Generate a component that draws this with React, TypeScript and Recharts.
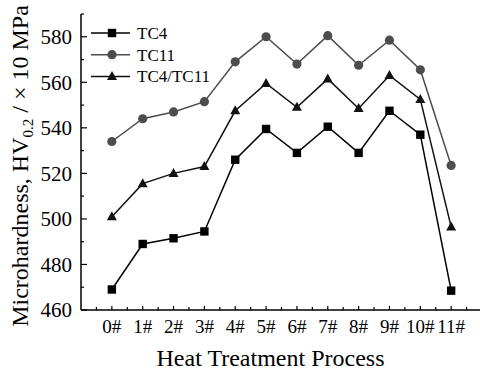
import React from "react";
import { Legend, Line, LineChart, XAxis, YAxis } from "recharts";

// heat treatment processes 0# .. 11#
const processes = ["0#", "1#", "2#", "3#", "4#", "5#", "6#", "7#", "8#", "9#", "10#", "11#"];
const tc4 = [469, 489, 491.5, 494.5, 526, 539.5, 529, 540.5, 529, 547.5, 537, 468.5];
const tc11 = [534, 544, 547, 551.5, 569, 580, 568, 580.5, 567.5, 578.5, 565.5, 523.5];
const tc4tc11 = [501, 515.5, 520, 523, 547.5, 559.5, 549, 561.5, 548.5, 563, 552.5, 496.5];

const xTicks = [-0.5, 0, 0.5, 1, 1.5, 2, 2.5, 3, 3.5, 4, 4.5, 5, 5.5, 6, 6.5, 7, 7.5, 8, 8.5, 9, 9.5, 10, 10.5, 11, 11.5];
const yTicks = [460, 470, 480, 490, 500, 510, 520, 530, 540, 550, 560, 570, 580, 590];

const FONT = '"Liberation Serif", "Times New Roman", serif';
const BLACK = "#000";
const GREY = "#4d4d4d";

const chartData = processes.map((p, i) => ({
  x: i,
  label: p,
  tc4: tc4[i],
  tc11: tc11[i],
  tc4tc11: tc4tc11[i],
}));

const series = [
  { key: "tc4", name: "TC4", color: BLACK, shape: "square" },
  { key: "tc11", name: "TC11", color: GREY, shape: "circle" },
  { key: "tc4tc11", name: "TC4/TC11", color: "#111", shape: "triangle" },
];

function Marker({ cx, cy, shape, color }: { cx: number; cy: number; shape: string; color: string }) {
  if (shape === "square") {
    return <rect x={cx - 4.2} y={cy - 4.2} width={8.4} height={8.4} fill={color} />;
  }
  if (shape === "circle") {
    return <circle cx={cx} cy={cy} r={4.6} fill={color} />;
  }
  return (
    <polygon
      points={`${cx},${cy - 5.5} ${cx - 5},${cy + 3.5} ${cx + 5},${cy + 3.5}`}
      fill={color}
    />
  );
}

const XTick = (props: any) => {
  const { x, y, payload } = props;
  const v = payload.value as number;
  const isMajor = Number.isInteger(v);
  return (
    <g>
      <line x1={x} x2={x} y1={y} y2={y - (isMajor ? 4 : 3)} stroke={BLACK} strokeWidth={1.2} />
      {isMajor && v >= 0 && v < processes.length && (
        <text x={x} y={y + 23} textAnchor="middle" fontFamily={FONT} fontSize={19} fill={BLACK}>
          {processes[v]}
        </text>
      )}
    </g>
  );
};

const TopTick = (props: any) => {
  const { x, y } = props;
  return <line x1={x} x2={x} y1={y} y2={y + 2.5} stroke={BLACK} strokeWidth={1.2} />;
};

const YTick = (props: any) => {
  const { x, y, payload } = props;
  const v = payload.value as number;
  const isMajor = v % 20 === 0;
  return (
    <g>
      <line x1={x} x2={x + (isMajor ? 6 : 3)} y1={y} y2={y} stroke={BLACK} strokeWidth={1.2} />
      {isMajor && v < 590 && (
        <text x={x - 9} y={y} dy="0.35em" textAnchor="end" fontFamily={FONT} fontSize={21} fill={BLACK}>
          {v}
        </text>
      )}
    </g>
  );
};

const YTitle = (props: any) => {
  const { viewBox } = props;
  const cx = viewBox.x + 28;
  const cy = 166;
  return (
    <text
      x={cx}
      y={cy}
      transform={`rotate(-90 ${cx} ${cy})`}
      textAnchor="middle"
      fontFamily={FONT}
      fontSize={24}
      fill={BLACK}
    >
      Microhardness, HV
      <tspan fontSize={15} dy={5}>0.2</tspan>
      <tspan dy={-5}> / × 10 MPa</tspan>
    </text>
  );
};

const XTitle = (props: any) => {
  const { viewBox } = props;
  return (
    <text
      x={viewBox.x + viewBox.width / 2 - 11}
      y={viewBox.y + 56}
      textAnchor="middle"
      fontFamily={FONT}
      fontSize={24}
      fill={BLACK}
    >
      Heat Treatment Process
    </text>
  );
};

const renderLegend = () => (
  <svg width={130} height={68}>
    {series.map((s, i) => {
      const y = 11 + i * 21.7;
      return (
        <g key={s.key}>
          <line x1={3} x2={42} y1={y} y2={y} stroke={s.color} strokeWidth={1.5} />
          <Marker cx={24} cy={y} shape={s.shape} color={s.color} />
          <text x={49} y={y} dy="0.35em" fontFamily={FONT} fontSize={17} fill={BLACK}>
            {s.name}
          </text>
        </g>
      );
    })}
  </svg>
);

export default function App() {
  return (
    <div
      style={{
        position: "fixed",
        left: 0,
        top: 0,
        width: 480,
        height: 370,
        overflow: "hidden",
        background: "#fff",
      }}
    >
      <LineChart width={500} height={370} data={chartData} margin={{ top: 14, right: 18, left: 0, bottom: 0 }}>
        <XAxis
          dataKey="x"
          type="number"
          domain={[-1, 12]}
          ticks={xTicks}
          interval={0}
          height={60}
          tickSize={0}
          tickMargin={0}
          tickLine={false}
          tick={<XTick />}
          axisLine={{ stroke: BLACK, strokeWidth: 1.5 }}
          allowDataOverflow
          label={<XTitle />}
        />
        <XAxis
          xAxisId="top"
          orientation="top"
          dataKey="x"
          type="number"
          domain={[-1, 12]}
          ticks={xTicks}
          interval={0}
          height={0}
          tickSize={0}
          tickMargin={0}
          tickLine={false}
          tick={<TopTick />}
          axisLine={{ stroke: BLACK, strokeWidth: 1.5 }}
          allowDataOverflow
        />
        <YAxis
          type="number"
          domain={[460, 590]}
          ticks={yTicks}
          interval={0}
          width={81}
          tickSize={0}
          tickMargin={0}
          tickLine={false}
          tick={<YTick />}
          axisLine={{ stroke: BLACK, strokeWidth: 1.5 }}
          allowDataOverflow
          label={<YTitle />}
        />
        <Legend
          layout="vertical"
          align="center"
          verticalAlign="middle"
          content={renderLegend}
          wrapperStyle={{ position: "absolute", left: 88, top: 22, width: 130, height: 68 }}
        />
        {series.map((s) => (
          <Line
            key={s.key}
            dataKey={s.key}
            name={s.name}
            stroke={s.color}
            strokeWidth={1.5}
            isAnimationActive={false}
            dot={(p: any) => <Marker key={`${s.key}-${p.index}`} cx={p.cx} cy={p.cy} shape={s.shape} color={s.color} />}
            activeDot={false}
          />
        ))}
      </LineChart>
    </div>
  );
}
